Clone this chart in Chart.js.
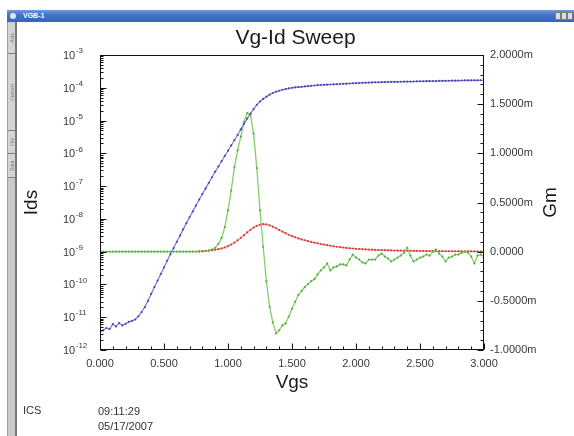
<!DOCTYPE html>
<html><head><meta charset="utf-8">
<script src="https://cdn.jsdelivr.net/npm/chart.js@4/dist/chart.umd.min.js"></script>
<style>
html,body{margin:0;padding:0;background:#fff;width:574px;height:436px;overflow:hidden;font-family:"Liberation Sans",Arial,sans-serif;}
#titlebar{position:absolute;left:7px;top:10px;width:567px;height:12px;background:linear-gradient(#7099dc,#4270c4 45%,#3865bc);}
#titlebar .t{position:absolute;left:16px;top:2px;font-size:7px;line-height:8px;color:#fff;font-weight:bold;}
#titlebar .ico{position:absolute;left:3px;top:3px;width:6px;height:6px;border-radius:3px;background:#dfe8f8;}
.btn{position:absolute;top:2px;width:6px;height:8px;background:#dcdcdc;border:1px solid #7a7a7a;box-sizing:border-box;}
#side{position:absolute;left:7px;top:22px;width:10px;height:414px;background:#c9c9c9;border-left:1px solid #a0a0a0;border-right:2px solid #767676;box-sizing:border-box;}
.tab{position:absolute;left:0;width:7px;border-bottom:1px solid #7e7e7e;background:#d4d4d4;box-sizing:border-box;}
.tab span{position:absolute;left:50%;top:50%;transform:translate(-50%,-50%) rotate(-90deg);font-size:5px;color:#777;white-space:nowrap;}
#cv{position:absolute;left:17px;top:22px;}
.foot{position:absolute;font-size:11px;line-height:12px;color:#333;}
</style></head>
<body>
<div id="titlebar"><div class="ico"></div><div class="t">VGB-1</div>
<div class="btn" style="left:548px"></div><div class="btn" style="left:554px"></div><div class="btn" style="left:560px"></div></div>
<div id="side">
<div class="tab" style="top:1px;height:31px"><span>Axis</span></div>
<div class="tab" style="top:32px;height:77px"><span>Cursors</span></div>
<div class="tab" style="top:109px;height:23px"><span>Fits</span></div>
<div class="tab" style="top:132px;height:24px"><span>Data</span></div>
</div>
<canvas id="cv" width="557" height="414"></canvas>
<div class="foot" style="left:23px;top:404px">ICS</div>
<div class="foot" style="left:98px;top:405px">09:11:29</div>
<div class="foot" style="left:98px;top:420px">05/17/2007</div>
<script>
// ---- data ----
const vgs = [
0,0.025,0.05,0.075,0.1,0.125,0.15,0.175,0.2,0.225,
0.25,0.275,0.3,0.325,0.35,0.375,0.4,0.425,0.45,0.475,
0.5,0.525,0.55,0.575,0.6,0.625,0.65,0.675,0.7,0.725,
0.75,0.775,0.8,0.825,0.85,0.875,0.9,0.925,0.95,0.975,
1,1.025,1.05,1.075,1.1,1.125,1.15,1.175,1.2,1.225,
1.25,1.275,1.3,1.325,1.35,1.375,1.4,1.425,1.45,1.475,
1.5,1.525,1.55,1.575,1.6,1.625,1.65,1.675,1.7,1.725,
1.75,1.775,1.8,1.825,1.85,1.875,1.9,1.925,1.95,1.975,
2,2.025,2.05,2.075,2.1,2.125,2.15,2.175,2.2,2.225,
2.25,2.275,2.3,2.325,2.35,2.375,2.4,2.425,2.45,2.475,
2.5,2.525,2.55,2.575,2.6,2.625,2.65,2.675,2.7,2.725,
2.75,2.775,2.8,2.825,2.85,2.875,2.9,2.925,2.95,2.975,
3];
// Ids as decade exponent (log10 of A)
const idsExp = [
-11.45,-11.40,-11.33,-11.36,-11.21,-11.28,-11.18,-11.25,-11.20,-11.14,
-11.11,-11.07,-10.97,-10.84,-10.69,-10.50,-10.29,-10.08,-9.88,-9.68,
-9.48,-9.28,-9.08,-8.89,-8.70,-8.51,-8.32,-8.13,-7.95,-7.77,
-7.59,-7.41,-7.24,-7.07,-6.90,-6.73,-6.56,-6.40,-6.24,-6.08,
-5.92,-5.76,-5.60,-5.44,-5.27,-5.10,-4.94,-4.79,-4.65,-4.52,
-4.42,-4.34,-4.27,-4.21,-4.16,-4.12,-4.09,-4.06,-4.04,-4.02,
-4.00,-3.99,-3.98,-3.97,-3.96,-3.95,-3.94,-3.93,-3.92,-3.915,
-3.91,-3.905,-3.90,-3.895,-3.89,-3.885,-3.88,-3.875,-3.87,-3.865,
-3.86,-3.855,-3.85,-3.845,-3.84,-3.837,-3.834,-3.831,-3.828,-3.826,
-3.824,-3.822,-3.82,-3.818,-3.816,-3.814,-3.812,-3.81,-3.808,-3.806,
-3.804,-3.802,-3.8,-3.798,-3.796,-3.794,-3.792,-3.79,-3.788,-3.786,
-3.784,-3.782,-3.78,-3.778,-3.776,-3.775,-3.774,-3.773,-3.772,-3.771,
-3.77];
// Gm (mS), green
const gm = [
0,0,0,0,0,0,0,0,0,0,
0,0,0,0,0,0,0,0,0,0,
0,0,0,0,0,0,0,0,0,0,
0,0,0.002,0.006,0.012,0.022,0.04,0.08,0.14,0.25,
0.42,0.62,0.86,1.03,1.17,1.32,1.41,1.39,1.20,0.85,
0.42,0.05,-0.30,-0.56,-0.72,-0.83,-0.80,-0.75,-0.73,-0.66,
-0.58,-0.51,-0.44,-0.40,-0.36,-0.33,-0.30,-0.28,-0.23,-0.19,
-0.16,-0.12,-0.19,-0.16,-0.15,-0.13,-0.13,-0.14,-0.08,-0.03,
-0.06,-0.08,-0.11,-0.12,-0.08,-0.08,-0.08,-0.04,-0.02,-0.05,
-0.07,-0.10,-0.08,-0.06,-0.04,-0.01,0.04,-0.04,-0.10,-0.08,
-0.06,-0.05,-0.03,-0.04,0.00,0.02,-0.02,-0.05,-0.10,-0.06,
-0.05,-0.03,-0.03,-0.01,0.00,-0.01,-0.05,-0.12,-0.04,-0.03,
-0.05];
// second Gm trace (mS), red
const gm2 = [
0,0,0,0,0,0,0,0,0,0,
0,0,0,0,0,0,0,0,0,0,
0,0,0,0,0,0,0,0,0,0,
0,0.003,0.005,0.008,0.011,0.015,0.019,0.025,0.033,0.043,
0.056,0.072,0.092,0.115,0.140,0.168,0.196,0.222,0.245,0.263,
0.275,0.280,0.277,0.268,0.254,0.238,0.221,0.204,0.188,0.172,
0.158,0.146,0.135,0.125,0.116,0.107,0.099,0.092,0.085,0.078,
0.072,0.066,0.060,0.055,0.050,0.046,0.042,0.038,0.035,0.032,
0.029,0.027,0.025,0.023,0.021,0.020,0.018,0.017,0.016,0.015,
0.014,0.013,0.012,0.011,0.011,0.010,0.009,0.009,0.008,0.008,
0.007,0.007,0.006,0.006,0.006,0.005,0.005,0.005,0.004,0.004,
0.004,0.004,0.003,0.003,0.003,0.003,0.003,0.002,0.002,0.002,
0.002];
const idsDecades = [-12,-11,-10,-9,-8,-7,-6,-5,-4,-3];
const xRange = [0, 3];
const gmRange = [-1, 2];

const FF = '"Liberation Sans", Arial, sans-serif';
Chart.defaults.font.family = FF;

const deco = {
  id: 'deco',
  afterDatasetsDraw(chart) {
    const {ctx, chartArea: a, scales: {x, y, y2}} = chart;
    ctx.save();
    ctx.strokeStyle = '#111';
    ctx.lineWidth = 1;
    const L = Math.round(a.left) + 0.5, R = Math.round(a.right) - 0.5,
          T = Math.round(a.top) + 0.5, B = Math.round(a.bottom) - 0.5;
    ctx.strokeRect(L, T, R - L, B - T);
    ctx.beginPath();
    idsDecades.forEach((n, idx) => {
      const yy = Math.round(y.getPixelForValue(Math.pow(10, n))) + 0.5;
      ctx.moveTo(L, yy); ctx.lineTo(L + 6, yy);
      if (idx < idsDecades.length - 1) {
        for (let k = 2; k <= 9; k++) {
          const ym = Math.round(y.getPixelForValue(k * Math.pow(10, n))) + 0.5;
          ctx.moveTo(L, ym); ctx.lineTo(L + 3, ym);
        }
      }
    });
    for (let i = 0; i <= 30; i++) {
      const xx = Math.round(x.getPixelForValue(i / 10)) + 0.5;
      const len = i % 5 === 0 ? 6 : 3;
      ctx.moveTo(xx, B); ctx.lineTo(xx, B - len);
    }
    for (let i = -10; i <= 20; i++) {
      const yy = Math.round(y2.getPixelForValue(i / 10)) + 0.5;
      const len = i % 5 === 0 ? 6 : 3;
      ctx.moveTo(R, yy); ctx.lineTo(R - len, yy);
    }
    ctx.stroke();
    ctx.restore();
  },
  afterDraw(chart) {
    const {ctx, scales: {y, y2}} = chart;
    ctx.save();
    ctx.fillStyle = '#383838';
    ctx.textAlign = 'left';
    idsDecades.forEach(n => {
      const yy = y.getPixelForValue(Math.pow(10, n));
      ctx.font = '11px ' + FF;
      ctx.textBaseline = 'middle';
      ctx.fillText('10', 46, yy + 1);
      const w = ctx.measureText('10').width;
      ctx.font = '8px ' + FF;
      ctx.fillText(String(n), 46 + w + 0.5, yy - 4);
    });
    ctx.fillStyle = '#1a1a1a';
    ctx.font = '19px ' + FF;
    ctx.textAlign = 'center';
    ctx.textBaseline = 'middle';
    ctx.translate(534, (y2.top + y2.bottom) / 2);
    ctx.rotate(-Math.PI / 2);
    ctx.fillText('Gm', 0, 0);
    ctx.restore();
  }
};

const pts = ys => vgs.map((v, i) => ({x: v, y: ys[i]}));
// red trace is hidden where it lies exactly under the green baseline
const hiddenUnderGreen = c => gm2[c.dataIndex] === 0 && gm[c.dataIndex] === 0;

new Chart(document.getElementById('cv'), {
  type: 'line',
  data: {
    datasets: [
      {label: 'Ids', data: vgs.map((v, i) => ({x: v, y: Math.pow(10, idsExp[i])})), yAxisID: 'y',
       borderColor: '#7a7ad6', borderWidth: 1.2, pointRadius: 1.1, pointBorderWidth: 0,
       pointBackgroundColor: '#4848b0', tension: 0},
      {label: 'Gm', data: pts(gm), yAxisID: 'y2',
       borderColor: '#84cf68', borderWidth: 1.3, pointRadius: 1.1, pointBorderWidth: 0,
       pointBackgroundColor: '#5aac44', tension: 0},
      {label: 'Gm2', data: pts(gm2), yAxisID: 'y2',
       borderColor: '#f07474', borderWidth: 1.1,
       pointRadius: c => hiddenUnderGreen(c) ? 0 : 1.1, pointBorderWidth: 0,
       pointBackgroundColor: '#dc3c3c', tension: 0,
       segment: {borderColor: c => (c.p0.parsed.y === 0 && c.p1.parsed.y === 0) ? 'rgba(0,0,0,0)' : undefined}}
    ]
  },
  options: {
    responsive: false, animation: false, devicePixelRatio: 1,
    layout: {padding: 0},
    plugins: {
      legend: {display: false}, tooltip: {enabled: false},
      title: {display: true, text: 'Vg-Id Sweep', color: '#1a1a1a',
              font: {size: 21, weight: 'normal', family: FF}, padding: {top: 4, bottom: 3.8}}
    },
    scales: {
      x: {type: 'linear', min: xRange[0], max: xRange[1], position: 'bottom',
          grid: {display: false, drawTicks: false}, border: {display: false},
          ticks: {stepSize: 0.5, autoSkip: false, maxRotation: 0, padding: 7, color: '#383838',
                  font: {size: 11}, callback: v => Number(v).toFixed(3)},
          title: {display: true, text: 'Vgs', color: '#1a1a1a', font: {size: 19}, padding: {top: 0, bottom: 42}},
          afterFit: s => { s.height = 86; }},
      y: {type: 'logarithmic', position: 'left', min: 1e-12, max: 1e-3,
          grid: {display: false, drawTicks: false}, border: {display: false},
          ticks: {display: false},
          title: {display: true, text: 'Ids', color: '#1a1a1a', font: {size: 19}, padding: {top: 3, bottom: 0}},
          afterFit: s => { s.width = 83; }},
      y2: {type: 'linear', position: 'right', min: gmRange[0], max: gmRange[1],
           grid: {display: false, drawTicks: false}, border: {display: false},
           ticks: {stepSize: 0.5, padding: 6, color: '#383838', font: {size: 11},
                   callback: v => (v === 0 ? '0.0000' : Number(v).toFixed(4) + 'm')},
           afterFit: s => { s.width = 90; }}
    }
  },
  plugins: [deco]
});
</script>
</body></html>
